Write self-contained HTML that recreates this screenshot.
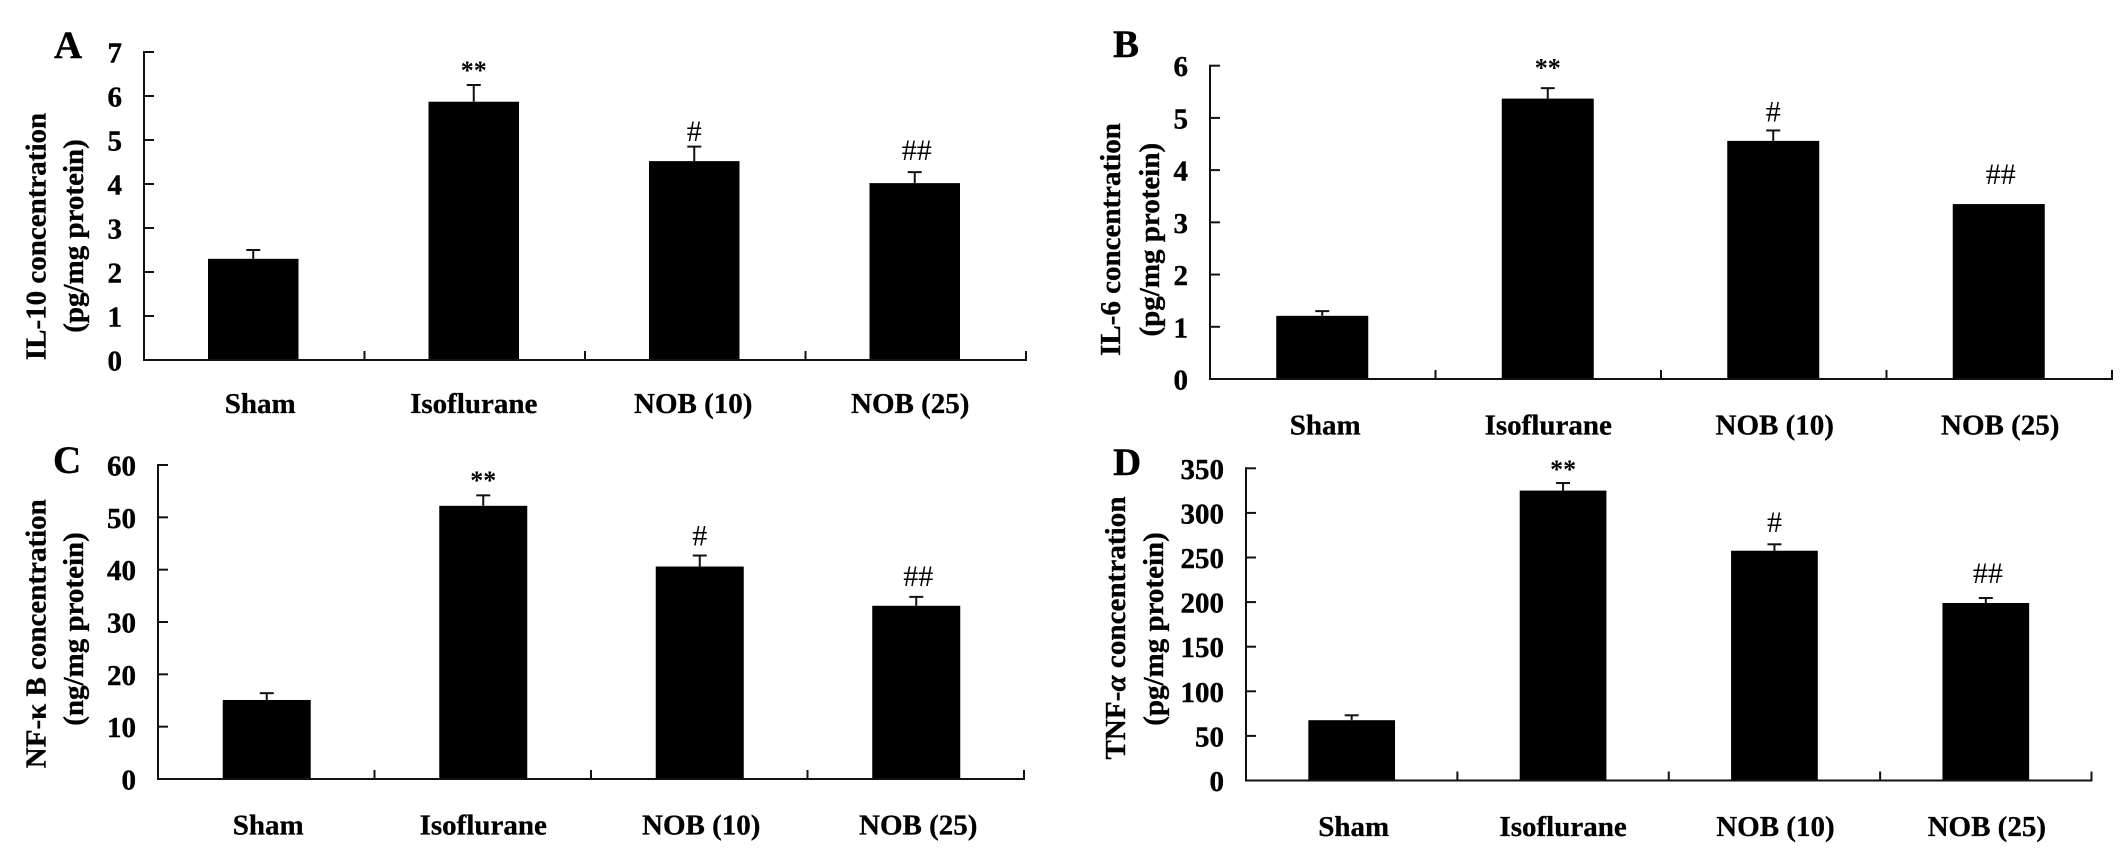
<!DOCTYPE html>
<html lang="en">
<head>
<meta charset="utf-8">
<title>Cytokine concentration bar charts</title>
<style>
html,body{margin:0;padding:0;background:#fff;}
svg{display:block;}
text{font-family:"Liberation Serif","DejaVu Serif",serif;fill:#000;}
.letter{font-size:39px;font-weight:bold;stroke:#000;stroke-width:.4px;}
.ytitle{font-size:29px;font-weight:bold;text-anchor:middle;stroke:#000;stroke-width:.35px;}
.tick{font-size:29px;font-weight:bold;text-anchor:end;stroke:#000;stroke-width:.4px;}
.cat{font-size:29px;font-weight:bold;text-anchor:middle;stroke:#000;stroke-width:.3px;}
.hash{font-size:30px;text-anchor:middle;}
.star{font-size:26px;font-weight:bold;text-anchor:middle;}
</style>
</head>
<body>
<svg id="figure" xmlns="http://www.w3.org/2000/svg" width="2126" height="860" viewBox="0 0 2126 860">
  <rect width="2126" height="860" fill="#fff"/>

  <text class="letter" x="54" y="58">A</text>
  <text class="letter" x="1113" y="57">B</text>
  <text class="letter" x="53" y="473">C</text>
  <text class="letter" x="1113" y="475">D</text>

  <text class="ytitle" transform="translate(45.5,236.5) rotate(-90)">IL-10 concentration</text>
  <text class="ytitle" transform="translate(83,236) rotate(-90)">(pg/mg protein)</text>

  <text class="ytitle" transform="translate(1120,239.5) rotate(-90)">IL-6 concentration</text>
  <text class="ytitle" transform="translate(1159,239.7) rotate(-90)">(pg/mg protein)</text>

  <text class="ytitle" transform="translate(45.5,633.7) rotate(-90)">NF-κ B concentration</text>
  <text class="ytitle" transform="translate(83,629) rotate(-90)">(ng/mg protein)</text>

  <text class="ytitle" transform="translate(1125,628) rotate(-90)" textLength="263" lengthAdjust="spacing">TNF-<tspan font-style="italic">α</tspan> concentration</text>
  <text class="ytitle" transform="translate(1163,629) rotate(-90)">(pg/mg protein)</text>
</svg>

<script>
// ---- chart data ----
const categories = ['Sham', 'Isoflurane', 'NOB (10)', 'NOB (25)'];
const significance = ['', '**', '#', '##'];

const aTicks = [0, 1, 2, 3, 4, 5, 6, 7];
const aValues = [2.3, 5.87, 4.52, 4.02];
const aErrors = [0.2, 0.38, 0.33, 0.25];
const aMarkGaps = [0, 0.16, 0.13, 0.27];

const bTicks = [0, 1, 2, 3, 4, 5, 6];
const bValues = [1.21, 5.37, 4.56, 3.35];
const bErrors = [0.09, 0.2, 0.2, 0];
const bMarkGaps = [0, 0.24, 0.17, 0.38];

const cTicks = [0, 10, 20, 30, 40, 50, 60];
const cValues = [15.1, 52.2, 40.6, 33.1];
const cErrors = [1.3, 2.0, 2.1, 1.7];
const cMarkGaps = [0, 1.4, 1.9, 2.1];

const dTicks = [0, 50, 100, 150, 200, 250, 300, 350];
const dValues = [67.6, 325, 257.6, 199];
const dErrors = [5.5, 8.5, 7.2, 5.6];
const dMarkGaps = [0, 6.7, 14, 17];

// ---- drawing ----
const SVG_NS = 'http://www.w3.org/2000/svg';
const root = document.getElementById('figure');

function shape(tag, parent, attrs) {
  const el = document.createElementNS(SVG_NS, tag);
  for (const k in attrs) el.setAttribute(k, attrs[k]);
  parent.appendChild(el);
  return el;
}

function drawPanel(id, ticks, values, errors, gaps, layout) {
  const maxTick = ticks[ticks.length - 1];
  const yScale = v => layout.y0 - (v / maxTick) * (layout.y0 - layout.yTop);
  const band = (layout.xEnd - layout.x0) / categories.length;
  const xCenter = i => layout.x0 + (i + 0.5) * band + layout.barShift;

  const g = shape('g', root, {});
  
  

  // bars, error bars, significance marks
  categories.forEach((cat, i) => {
    const cx = xCenter(i);
    const top = yScale(values[i]);
    const bar = shape('rect', g, {
      x: cx - layout.barWidth / 2, y: top,
      width: layout.barWidth, height: yScale(0) - top, fill: '#000'
    });
    
    

    const capY = yScale(values[i] + errors[i]);
    if (errors[i] > 0) {
      const stem = shape('line', g, {
        x1: cx, x2: cx, y1: top, y2: capY, stroke: '#111', 'stroke-width': 2
      });
      
      

      const cap = shape('line', g, {
        x1: cx - 7, x2: cx + 7, y1: capY, y2: capY, stroke: '#111', 'stroke-width': 2
      });
      
      
    }

    if (significance[i]) {
      const isStar = significance[i] === '**';
      const mark = shape('text', g, {
        x: cx + (significance[i] === '##' ? 2 : 0),
        y: yScale(values[i] + errors[i] + gaps[i]) + (isStar ? 1 : 0),
        class: isStar ? 'star' : 'hash'
      });
      mark.textContent = significance[i];
      
      
    }

    const label = shape('text', g, {
      x: cx + layout.labelShifts[i], y: layout.labelY, class: 'cat'
    });
    label.textContent = cat;
    
    
  });

  // axes
  const yAxis = shape('line', g, {
    x1: layout.x0, x2: layout.x0, y1: yScale(maxTick) - 1, y2: yScale(0) + 1,
    stroke: '#111', 'stroke-width': 2
  });
  
  

  const xAxis = shape('line', g, {
    x1: layout.x0, x2: layout.xEnd + 1, y1: yScale(0), y2: yScale(0),
    stroke: '#111', 'stroke-width': 2
  });
  
  

  ticks.forEach(t => {
    const tickMark = shape('line', g, {
      x1: layout.x0, x2: layout.x0 + 10, y1: yScale(t), y2: yScale(t),
      stroke: '#111', 'stroke-width': 2
    });
    
    

    const tickLabel = shape('text', g, {
      x: layout.x0 - 22, y: yScale(t) + 10.5, class: 'tick'
    });
    tickLabel.textContent = t;
    
    
  });

  categories.forEach((cat, i) => {
    const bx = layout.x0 + (i + 1) * band;
    const xTick = shape('line', g, {
      x1: bx, x2: bx, y1: yScale(0), y2: yScale(0) - 9,
      stroke: '#111', 'stroke-width': 2
    });
    
    
  });
}

drawPanel('a', aTicks, aValues, aErrors, aMarkGaps, {
  x0: 144, xEnd: 1026, y0: 360, yTop: 52, barWidth: 90.5, barShift: -1,
  labelY: 413, labelShifts: [7, 0, -1, -4.5]
});
drawPanel('b', bTicks, bValues, bErrors, bMarkGaps, {
  x0: 1210, xEnd: 2112, y0: 379, yTop: 65.7, barWidth: 92, barShift: -0.5,
  labelY: 434.5, labelShifts: [3, 0.5, 1.5, 1.5]
});
drawPanel('c', cTicks, cValues, cErrors, cMarkGaps, {
  x0: 158, xEnd: 1024, y0: 779, yTop: 465, barWidth: 88, barShift: 0.5,
  labelY: 834.5, labelShifts: [1.5, 0, 1.5, 2]
});
drawPanel('d', dTicks, dValues, dErrors, dMarkGaps, {
  x0: 1246, xEnd: 2091.5, y0: 780.5, yTop: 468.3, barWidth: 86.7, barShift: 0,
  labelY: 836, labelShifts: [2, 0, 1, 1]
});
</script>
</body>
</html>
